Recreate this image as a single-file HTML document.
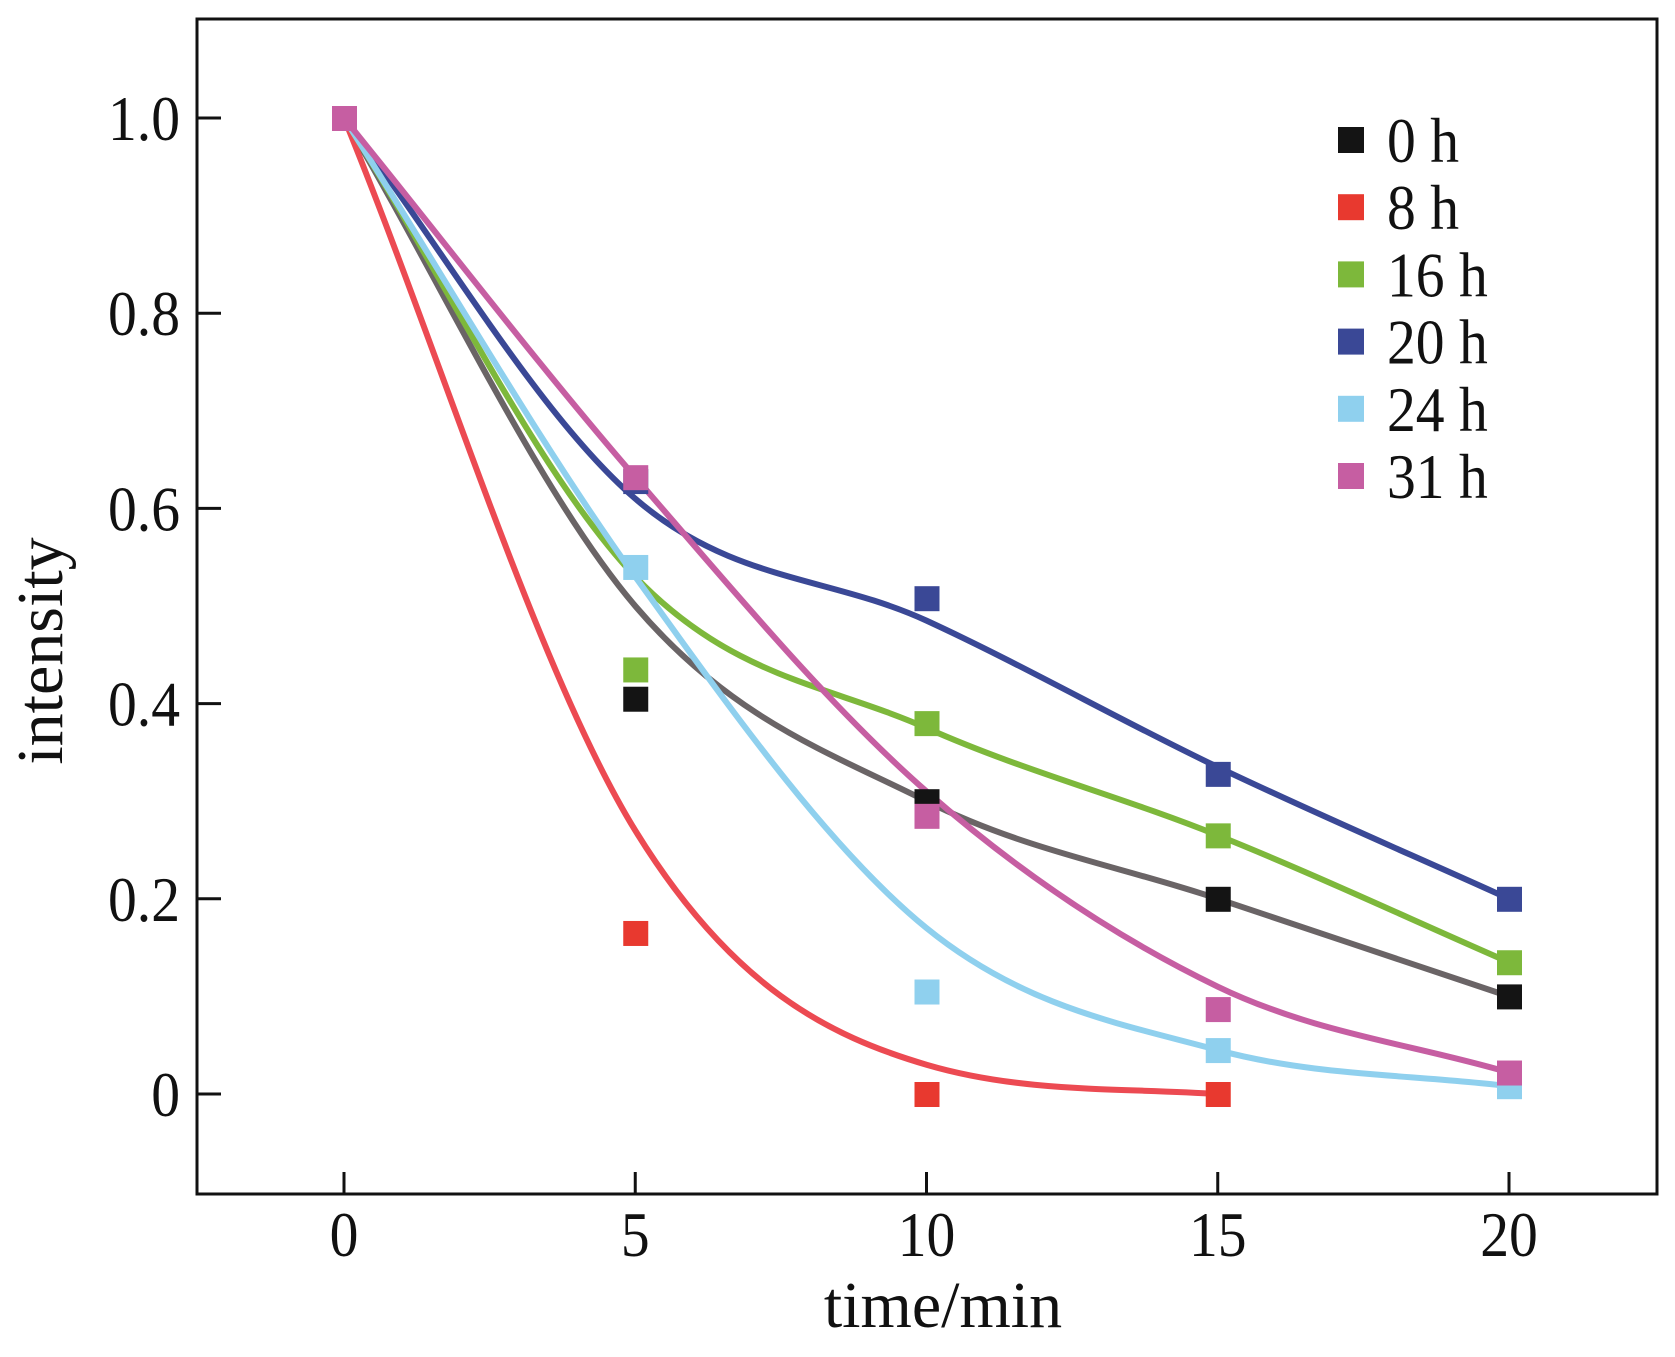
<!DOCTYPE html>
<html><head><meta charset="utf-8"><style>
html,body{margin:0;padding:0;background:#fff;}
svg{display:block;font-family:"Liberation Serif",serif;}
</style></head><body>
<svg id="chart" width="1675" height="1357" viewBox="0 0 1675 1357" xmlns="http://www.w3.org/2000/svg">
<rect x="197" y="19" width="1460" height="1175" fill="none" stroke="#111" stroke-width="3"/>
<g id="axes"></g>
<g id="curves"></g>
<g id="points"></g>
<g id="legend"></g>
<text x="943" y="1327" font-size="66" text-anchor="middle" fill="#111">time/min</text>
<text x="0" y="0" font-size="66" text-anchor="middle" fill="#111" transform="translate(62 651) rotate(-90)">intensity</text>
</svg>
<script>
const xTicks = [0, 5, 10, 15, 20];
const yTicks = [0, 0.2, 0.4, 0.6, 0.8, 1.0];
const yTickLabels = ["0", "0.2", "0.4", "0.6", "0.8", "1.0"];
const seriesNames = ["0 h", "8 h", "16 h", "20 h", "24 h", "31 h"];
const seriesColors = ["#141414", "#e8392f", "#7db83b", "#3a4896", "#8fd0ee", "#c65ea2"];
const curveColors = ["#6a6466", "#ec4a52", "#7db83b", "#3a4896", "#8fd0ee", "#c65ea2"];
const times0 = [0, 5, 10, 15, 20];
const times1 = [0, 5, 10, 15];
const pts0h = [1.0, 0.405, 0.30, 0.20, 0.10];
const pts8h = [1.0, 0.165, 0.0, 0.0];
const pts16h = [1.0, 0.435, 0.38, 0.265, 0.135];
const pts20h = [1.0, 0.628, 0.508, 0.328, 0.20];
const pts24h = [1.0, 0.54, 0.105, 0.045, 0.008];
const pts31h = [1.0, 0.632, 0.285, 0.087, 0.022];
const fit0h = [1.0, 0.50, 0.30, 0.20, 0.10];
const fit8h = [1.0, 0.27, 0.03, 0.0];
const fit16h = [1.0, 0.53, 0.375, 0.265, 0.135];
const fit20h = [1.0, 0.61, 0.485, 0.335, 0.20];
const fit24h = [1.0, 0.53, 0.17, 0.045, 0.008];
const fit31h = [1.0, 0.632, 0.31, 0.11, 0.022];

const NS = "http://www.w3.org/2000/svg";
function X(v){ return 344 + (v - 0) * (1509 - 344) / 20; }
function Y(v){ return 1094 - v * (1094 - 118); }
function mk(tag, attrs, parent){ const e = document.createElementNS(NS, tag); for (const k in attrs) e.setAttribute(k, attrs[k]); parent.appendChild(e); return e; }

const axes = document.getElementById('axes');
xTicks.forEach(t => {
  const l = mk('line', {x1: X(t), x2: X(t), y1: 1194, y2: 1172, stroke: '#111', 'stroke-width': 3}, axes);
  
  
  const tx = mk('text', {x: X(t), y: 1256, 'font-size': 64, 'text-anchor': 'middle', fill: '#111', transform: `translate(${X(t)} 0) scale(0.9 1) translate(${-X(t)} 0)`}, axes);
  tx.textContent = String(t);
  
  
});
yTicks.forEach((t, i) => {
  const l = mk('line', {x1: 197, x2: 221, y1: Y(t), y2: Y(t), stroke: '#111', 'stroke-width': 3}, axes);
  
  
  const tx = mk('text', {x: 180, y: Y(t) + 22, 'font-size': 64, 'text-anchor': 'end', fill: '#111', transform: `translate(180 0) scale(0.9 1) translate(-180 0)`}, axes);
  tx.textContent = yTickLabels[i];
  
  
});

function monoPath(xs, ys){
  const n = xs.length, px = xs.map(X), py = ys.map(Y);
  const d = [], m = new Array(n);
  for (let i = 0; i < n - 1; i++) d.push((py[i+1] - py[i]) / (px[i+1] - px[i]));
  m[0] = d[0]; m[n-1] = d[n-2];
  for (let i = 1; i < n - 1; i++) m[i] = (d[i-1] * d[i] <= 0) ? 0 : (d[i-1] + d[i]) / 2;
  for (let i = 0; i < n - 1; i++) {
    if (d[i] === 0) { m[i] = 0; m[i+1] = 0; continue; }
    const a = m[i] / d[i], b = m[i+1] / d[i], s = a*a + b*b;
    if (s > 9) { const t = 3 / Math.sqrt(s); m[i] = t*a*d[i]; m[i+1] = t*b*d[i]; }
  }
  let p = `M${px[0]},${py[0]}`;
  for (let i = 0; i < n - 1; i++) {
    const h = px[i+1] - px[i];
    p += ` C${px[i] + h/3},${py[i] + m[i]*h/3} ${px[i+1] - h/3},${py[i+1] - m[i+1]*h/3} ${px[i+1]},${py[i+1]}`;
  }
  return p;
}

const pts = [pts0h, pts8h, pts16h, pts20h, pts24h, pts31h];
const fits = [fit0h, fit8h, fit16h, fit20h, fit24h, fit31h];
const times = [times0, times1, times0, times0, times0, times0];
const curves = document.getElementById('curves');
const points = document.getElementById('points');
const legend = document.getElementById('legend');
[0, 1, 2, 3, 4, 5].forEach(s => {
  const c = mk('path', {d: monoPath(times[s], fits[s]), fill: 'none', stroke: curveColors[s], 'stroke-width': 6, 'stroke-linecap': 'round'}, curves);
  
  
  pts[s].forEach((v, i) => {
    const r = mk('rect', {x: X(times[s][i]) - 12, y: Y(v) - 12, width: 25, height: 25, fill: seriesColors[s]}, points);
    
    
  });
  const ly = 140 + s * 67.2;
  const lr = mk('rect', {x: 1338, y: ly - 13, width: 26, height: 26, fill: seriesColors[s]}, legend);
  
  
  const lt = mk('text', {x: 1387, y: ly + 22, 'font-size': 64, fill: '#111', transform: `translate(1387 0) scale(0.9 1) translate(-1387 0)`}, legend);
  lt.textContent = seriesNames[s];
  
  
});
</script>
</body></html>
